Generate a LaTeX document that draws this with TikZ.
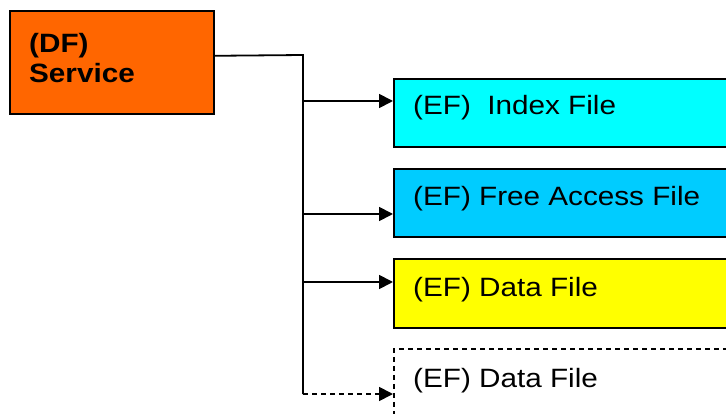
\documentclass[tikz,border=0pt]{standalone}
\usepackage{fontspec}
\setmainfont{Liberation Sans}[FakeStretch=1.12]
\usetikzlibrary{arrows.meta}
\definecolor{dforange}{HTML}{FF6600}
\definecolor{efcyan}{HTML}{00FFFF}
\definecolor{efsky}{HTML}{00CCFF}
\definecolor{efyellow}{HTML}{FFFF00}
\tikzset{
  box/.style={draw=black, line width=1.6pt, rectangle, anchor=north west, inner sep=0pt, minimum width=360pt},
  lbl/.style={anchor=base west, inner sep=0pt, font=\fontsize{26.5}{30}\selectfont},
  conn/.style={line width=1.8pt},
  arr/.style={line width=1.8pt, -{Triangle[length=14pt,width=14pt]}},
  dsh/.style={dash pattern=on 5pt off 4pt}
}
\begin{document}
\begin{tikzpicture}[x=1pt,y=-1pt]
\useasboundingbox (0,0) rectangle (726,414);
\clip (0,0) rectangle (726,414);
% boxes
\node[box, fill=dforange, minimum width=204pt, minimum height=103pt] (df) at (9,10) {};
\node[box, fill=efcyan, minimum height=68pt] (idx) at (393,78) {};
\node[box, fill=efsky, minimum height=68pt] (fa) at (393,168) {};
\node[box, fill=efyellow, minimum height=69pt] (data) at (393,258) {};
\node[box, dsh, minimum height=100pt] (data2) at (393,348) {};
% labels
\node[lbl, font=\bfseries\fontsize{26.5}{30}\selectfont] (dft1) at (29,53) {(DF)};
\node[lbl, font=\bfseries\fontsize{26.5}{30}\selectfont] (dft2) at (29,83) {Service};
\node[lbl] (idxt) at (413,115) {(EF)\ \ Index File};
\node[lbl] (fat) at (413,206) {(EF) Free Access File};
\node[lbl] (datat) at (413,297) {(EF) Data File};
\node[lbl] (data2t) at (413,387) {(EF) Data File};
% connectors
\coordinate (top) at (303,55);
\coordinate (b1) at (303,101);
\coordinate (b2) at (303,214);
\coordinate (b3) at (303,282);
\coordinate (b4) at (303,394);
\draw[conn] ([yshift=6.5pt]df.east) -- (top) -- (b4);
\draw[arr] (b1) -- (b1 -| idx.west);
\draw[arr] (b2) -- (b2 -| fa.west);
\draw[arr] (b3) -- (b3 -| data.west);
\draw[arr, dsh] (b4) -- (b4 -| data2.west);
\end{tikzpicture}
\end{document}
